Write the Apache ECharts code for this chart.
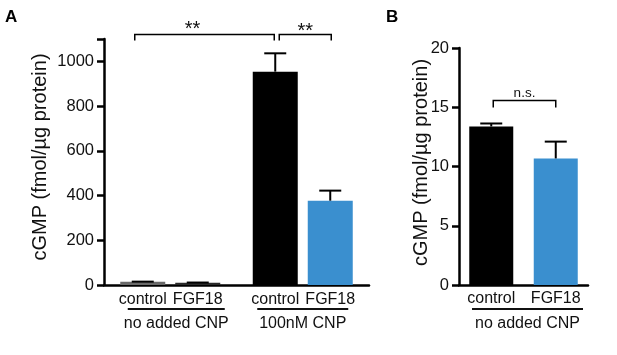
<!DOCTYPE html>
<html>
<head>
<meta charset="utf-8">
<script src="https://cdn.jsdelivr.net/npm/echarts@6/dist/echarts.min.js"></script>
<style>
  html, body { margin: 0; padding: 0; background: #fff; }
  #echarts { width: 617px; height: 355px; }
</style>
</head>
<body>
<div id="echarts"></div>
<script>
// 面板A 数据
const groupsA = ['no added CNP', '100nM CNP']
const seriesNamesA = ['control', 'FGF18']
const controlA = [14, 954]
const controlErrA = [1, 82]
const fgf18A = [10, 377]
const fgf18ErrA = [1, 45]
const yLabelsA = [0, 200, 400, 600, 800, 1000]
const yTicksA = [0, 200, 400, 600, 800, 1000, 1100]

// 面板B 数据
const catsB = ['control', 'FGF18']
const meanB = [13.38, 10.68]
const errB = [0.25, 1.42]
const groupB = 'no added CNP'

// 显著性标记: [series, category] -> [series, category]
const sigA = [
  { from: [0, 0], to: [0, 1], y: 1122, label: '**' },
  { from: [0, 1], to: [1, 1], y: 1122, label: '**' },
]
const sigB = [
  { from: [0, 0], to: [0, 1], y: 15.6, label: 'n.s.' },
]

const FONT = "'Liberation Sans', Arial, Helvetica, sans-serif"
const INK = '#111'
const BAR_W = 45
const BAR_GAP = 10
const colorsA = [['#6a6a6a', '#000000'], ['#2a2a2a', '#3a8fcf']]
const colorsB = ['#000000', '#3a8fcf']

const offsetA = (s) => (s - 0.5) * (BAR_W + BAR_GAP)

const errorBar = (offsetFn) => (params, api) => {
  const cat = api.value(0)
  const mean = api.value(1)
  const err = api.value(2)
  const x = api.coord([cat, 0])[0] + offsetFn(api.value(3))
  const top = api.coord([cat, mean])[1]
  const hi = api.coord([cat, mean + err])[1]
  const style = { stroke: '#000', lineWidth: 2 }
  return {
    type: 'group',
    children: [
      { type: 'line', shape: { x1: x, y1: top, x2: x, y2: hi }, style },
      { type: 'line', shape: { x1: x - 11, y1: hi, x2: x + 11, y2: hi }, style },
    ],
  }
}

const axisLine = { show: true, lineStyle: { color: '#000', width: 2.5 } }
const axisTick = { show: true, length: 7, lineStyle: { color: '#000', width: 2.5 } }

const barsA = [controlA, fgf18A].map((vals, s) => ({
  type: 'bar',
  name: seriesNamesA[s],
  xAxisIndex: 0,
  yAxisIndex: 0,
  barWidth: BAR_W,
  barGap: (BAR_GAP / BAR_W * 100) + '%',
  data: vals.map((v, i) => ({ value: v, itemStyle: { color: colorsA[s][i] } })),
  label: {
    show: true,
    position: 'bottom',
    distance: 7,
    formatter: '{a}',
    fontFamily: FONT,
    fontSize: 16,
    color: INK,
  },
}))

const errDataA = []
;[[controlA, controlErrA], [fgf18A, fgf18ErrA]].forEach(([m, e], s) => {
  m.forEach((v, i) => errDataA.push([i, v, e[i], s]))
})

const option = {
  animation: false,
  textStyle: { fontFamily: FONT, color: INK },
  grid: [
    { left: 104, top: 39, width: 265, height: 246 },
    { left: 459, top: 48, width: 129, height: 237 },
  ],
  xAxis: [
    {
      gridIndex: 0,
      type: 'category',
      data: groupsA.map((g, i) => ({ value: g, textStyle: { padding: [0, 0, 0, i === 0 ? 12 : 0] } })),
      axisLine,
      axisTick: { show: false },
      axisLabel: {
        margin: 23,
        interval: 0,
        formatter: (v, i) => '{ul' + i + '| }\n{g|' + v + '}',
        rich: {
          ul0: { width: 97, height: 2, lineHeight: 2, backgroundColor: INK },
          ul1: { width: 91, height: 2, lineHeight: 2, backgroundColor: INK },
          g: { fontSize: 16, lineHeight: 28, color: INK, fontFamily: FONT },
        },
      },
    },
    {
      gridIndex: 1,
      type: 'category',
      data: catsB,
      axisLine,
      axisTick: { show: false },
      axisLabel: { margin: 6, interval: 0, fontSize: 16, color: INK },
      name: '{ul| }\n{g|' + groupB + '}',
      nameLocation: 'middle',
      nameGap: 23,
      nameMoveOverlap: false,
      nameTextStyle: {
        padding: [0, 0, 0, 8],
        rich: {
          ul: { width: 111, height: 2, lineHeight: 2, backgroundColor: INK },
          g: { fontSize: 16, lineHeight: 28, color: INK, fontFamily: FONT },
        },
      },
    },
  ],
  yAxis: [
    {
      gridIndex: 0,
      type: 'value',
      min: 0,
      max: 1100,
      interval: 100,
      axisLine,
      axisTick: { ...axisTick, customValues: yTicksA },
      axisLabel: { customValues: yLabelsA, formatter: (v) => String(v), margin: 10, fontSize: 16.5, color: INK },
      splitLine: { show: false },
      name: 'cGMP (fmol/µg protein)',
      nameLocation: 'middle',
      nameGap: 54,
      nameMoveOverlap: false,
      nameTextStyle: { fontSize: 20, color: INK, padding: [0, 0, 0, 10] },
    },
    {
      gridIndex: 1,
      type: 'value',
      min: 0,
      max: 20,
      interval: 5,
      axisLine,
      axisTick,
      axisLabel: { margin: 10, fontSize: 16.5, color: INK },
      splitLine: { show: false },
      name: 'cGMP (fmol/µg protein)',
      nameLocation: 'middle',
      nameGap: 28,
      nameMoveOverlap: false,
      nameTextStyle: { fontSize: 20, color: INK, padding: [0, 0, 0, 8] },
    },
  ],
  series: [
    ...barsA,
    {
      type: 'custom',
      xAxisIndex: 0,
      yAxisIndex: 0,
      z: 5,
      renderItem: errorBar(offsetA),
      data: errDataA,
    },
    {
      type: 'bar',
      xAxisIndex: 1,
      yAxisIndex: 1,
      barWidth: 44,
      data: meanB.map((v, i) => ({ value: v, itemStyle: { color: colorsB[i] } })),
    },
    {
      type: 'custom',
      xAxisIndex: 1,
      yAxisIndex: 1,
      z: 5,
      renderItem: errorBar(() => 0),
      data: meanB.map((v, i) => [i, v, errB[i], 0]),
    },
  ],
}

const chart = echarts.init(document.querySelector('#echarts'))
chart.setOption(option)

// 括号和星号
const bracket = (sig, finder, offsetFn, leg, nudge) => {
  const p1 = chart.convertToPixel(finder, [sig.from[1], sig.y])
  const p2 = chart.convertToPixel(finder, [sig.to[1], sig.y])
  const x1 = p1[0] + offsetFn(sig.from[0]) + nudge[0]
  const x2 = p2[0] + offsetFn(sig.to[0]) + nudge[1]
  const y = Math.round(p1[1]) + 0.5
  const star = sig.label === '**'
  const style = { stroke: '#000', lineWidth: 1.5, fill: null }
  return [
    {
      type: 'polyline',
      shape: { points: [[x1, y + leg], [x1, y], [x2, y], [x2, y + leg]] },
      style,
    },
    {
      type: 'text',
      x: (x1 + x2) / 2 + nudge[2],
      y: y + nudge[3],
      style: {
        text: sig.label,
        font: (star ? '20px ' : '13.5px ') + FONT,
        fill: INK,
        align: 'center',
        verticalAlign: 'bottom',
      },
    },
  ]
}

const finderA = { xAxisIndex: 0, yAxisIndex: 0 }
const finderB = { xAxisIndex: 1, yAxisIndex: 1 }
const nudges = [[-8, -1, -12, 5], [4, 1, 0, 7]]
const graphic = [
  { type: 'text', x: 5, y: 9, style: { text: 'A', font: 'bold 17px ' + FONT, fill: '#000' } },
  { type: 'text', x: 386, y: 9, style: { text: 'B', font: 'bold 17px ' + FONT, fill: '#000' } },
]
sigA.forEach((s, i) => graphic.push(...bracket(s, finderA, offsetA, 6, nudges[i])))
sigB.forEach((s) => graphic.push(...bracket(s, finderB, () => 0, 7, [2, 0, 0, 0])))
chart.setOption({ graphic })
</script>
</body>
</html>
